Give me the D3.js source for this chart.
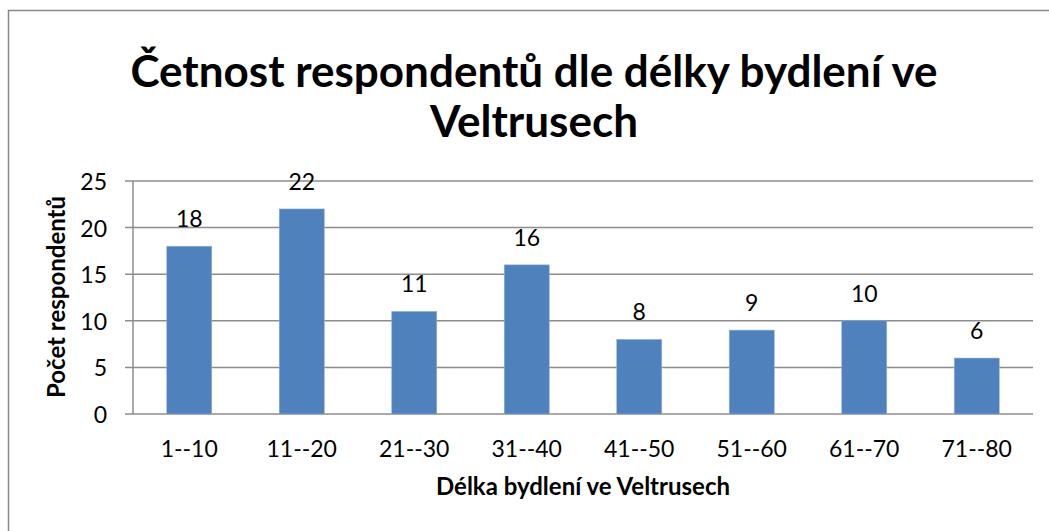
<!DOCTYPE html>
<html><head><meta charset="utf-8">
<script src="https://cdn.jsdelivr.net/npm/d3@7"></script>
<style>body{margin:0;background:#fff}svg{display:block}text{font-family:Lato,"Open Sans",sans-serif}</style>
</head><body><svg id="c" width="1049" height="531"></svg>
<script>
const categories = ["1--10","11--20","21--30","31--40","41--50","51--60","61--70","71--80"];
const values = [18,22,11,16,8,9,10,6];
const yTicks = [0,5,10,15,20,25];
const titleLines = ["Četnost respondentů dle délky bydlení ve","Veltrusech"];
const xTitle = "Délka bydlení ve Veltrusech";
const yTitle = "Počet respondentů";

const svg = d3.select("#c");
svg.append("rect").attr("x",8.5).attr("y",10.5).attr("width",1100).attr("height",600)
  .attr("fill","#fff").attr("stroke","#888").attr("stroke-width",1.5);

const L=133, R=1033, T=181, B=414;
const x = d3.scaleBand().domain(categories).range([L,R]).paddingInner(0.6).paddingOuter(0.3);
const y = d3.scaleLinear().domain([0,25]).range([B,T]);

// gridlines
svg.append("g").selectAll("line").data(yTicks).join("line")
  .attr("x1",L-8).attr("x2",R).attr("y1",d=>y(d)).attr("y2",d=>y(d))
  .attr("stroke","#8c8c8c").attr("stroke-width",1.5);
svg.append("line").attr("x1",L).attr("x2",L).attr("y1",T).attr("y2",B)
  .attr("stroke","#8c8c8c").attr("stroke-width",1.5);

// bars
svg.append("g").selectAll("rect").data(values).join("rect")
  .attr("x",(d,i)=>x(categories[i])).attr("width",x.bandwidth())
  .attr("y",d=>y(d)).attr("height",d=>B-y(d))
  .attr("fill","#4f81bd").attr("stroke","#8fb0d9").attr("stroke-width",0.6);

// value labels
svg.append("g").selectAll("text").data(values).join("text")
  .attr("x",(d,i)=>x(categories[i])+x.bandwidth()/2).attr("y",d=>y(d)-19)
  .attr("text-anchor","middle").attr("font-size",23).attr("fill","#000").text(d=>d);

// y tick labels
svg.append("g").selectAll("text").data(yTicks).join("text")
  .attr("x",L-26).attr("y",d=>y(d)+9).attr("text-anchor","end")
  .attr("font-size",23).text(d=>d);

// x tick labels
svg.append("g").selectAll("text").data(categories).join("text")
  .attr("x",d=>x(d)+x.bandwidth()/2).attr("y",457).attr("text-anchor","middle")
  .attr("font-size",23).text(d=>d);

// titles
svg.append("g").selectAll("text").data(titleLines).join("text")
  .attr("x",534).attr("y",(d,i)=>87+i*50).attr("text-anchor","middle")
  .attr("font-size",44).attr("font-weight","bold").text(d=>d);
svg.append("text").attr("x",583).attr("y",495).attr("text-anchor","middle")
  .attr("font-size",24).attr("font-weight","bold").text(xTitle);
svg.append("text").attr("transform","translate(65,297) rotate(-90)").attr("text-anchor","middle")
  .attr("font-size",24).attr("font-weight","bold").text(yTitle);
</script></body></html>
